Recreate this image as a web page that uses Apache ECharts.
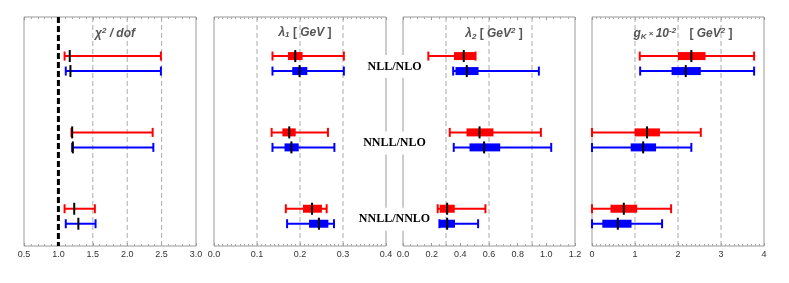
<!DOCTYPE html>
<html>
<head>
<meta charset="utf-8">
<script src="https://cdn.jsdelivr.net/npm/echarts@6/dist/echarts.min.js"></script>
<style>html,body{margin:0;padding:0;background:#fff}#c{width:789px;height:283px}</style>
</head>
<body>
<div id="c"></div>
<script>
// ---- data ----
const groups = ['NLL/NLO', 'NNLL/NLO', 'NNLL/NNLO'];
// chi2/dof: [low, central, high]
const chi2Red  = [[1.09, 1.165, 2.49], [1.19, 1.20, 2.37], [1.09, 1.23, 1.53]];
const chi2Blue = [[1.107, 1.175, 2.49], [1.20, 1.21, 2.38], [1.107, 1.29, 1.54]];
// others: [low, boxLow, central, boxHigh, high]
const lambda1Red  = [[0.136, 0.172, 0.189, 0.206, 0.302], [0.134, 0.159, 0.175, 0.190, 0.265], [0.167, 0.207, 0.228, 0.251, 0.262]];
const lambda1Blue = [[0.136, 0.182, 0.199, 0.217, 0.302], [0.136, 0.164, 0.180, 0.197, 0.280], [0.170, 0.221, 0.244, 0.266, 0.279]];
const lambda2Red  = [[0.177, 0.356, 0.424, 0.506, 0.506], [0.326, 0.443, 0.534, 0.631, 0.962], [0.242, 0.256, 0.308, 0.361, 0.575]];
const lambda2Blue = [[0.350, 0.366, 0.445, 0.527, 0.948], [0.354, 0.464, 0.566, 0.678, 1.034], [0.254, 0.254, 0.308, 0.363, 0.524]];
const gkRed  = [[1.11, 2.00, 2.31, 2.64, 3.77], [0, 0.99, 1.28, 1.58, 2.53], [0, 0.43, 0.74, 1.05, 1.84]];
const gkBlue = [[1.12, 1.85, 2.18, 2.53, 3.77], [0, 0.90, 1.19, 1.49, 2.31], [0, 0.24, 0.60, 0.92, 1.63]];
// axis ranges / ticks
const xMins = [0.5, 0, 0, 0];
const xMaxs = [3.0, 0.4, 1.2, 4];
const xIntervals = [0.5, 0.1, 0.2, 1];
const xDecimals = [1, 1, 1, 0];
const minorSplits = [5, 10, 4, 10];
// dashed grid lines
const gridChi2 = [1.5, 2.0, 2.5];
const gridL1 = [0.1, 0.2, 0.3];
const gridL2 = [0.3, 0.6, 0.9];
const gridGK = [1, 2, 3];
const chi2Ref = [1.0];

// ---- layout ----
const panelLefts = [24, 214, 403, 592];
const panelW = 172, panelTop = 17, panelH = 229;
const yMin = -0.61, yMax = 2.39;
const RED = '#ff0000', BLUE = '#0000ff';

const chart = echarts.init(document.getElementById('c'), null, {renderer: 'canvas'});

const grids = [], xAxes = [], yAxes = [], series = [];
panelLefts.forEach((l, i) => {
  grids.push({left: l, top: panelTop, width: panelW, height: panelH, show: true, borderColor: '#999', borderWidth: 1, backgroundColor: 'transparent'});
  const common = {
    type: 'value', gridIndex: i, min: xMins[i], max: xMaxs[i], interval: xIntervals[i],
    axisLine: {show: false, onZero: false}, splitLine: {show: false},
    axisTick: {show: true, inside: true, length: 3, lineStyle: {color: '#999'}},
    minorTick: {show: true, splitNumber: minorSplits[i], length: 2, lineStyle: {color: '#aaa'}},
  };
  xAxes.push(Object.assign({}, common, {position: 'bottom',
    axisLabel: {show: true, margin: 4, fontSize: 9, color: '#333', fontFamily: 'Liberation Sans',
      formatter: v => (+v).toFixed(xDecimals[i])}}));
  xAxes.push(Object.assign({}, common, {position: 'top', axisLabel: {show: false}}));
  yAxes.push({type: 'value', gridIndex: i, min: yMin, max: yMax, inverse: true, show: false});
});

function vline(color, width, dash) {
  return function (params, api) {
    const v = api.value(0);
    const p0 = api.coord([v, yMin]);
    const p1 = api.coord([v, yMax]);
    return {type: 'line', shape: {x1: p0[0], y1: p0[1], x2: p1[0], y2: p1[1]},
      style: {stroke: color, lineWidth: width, lineDash: dash}};
  };
}
function addGridLines(i, arr) {
  series.push({type: 'custom', xAxisIndex: 2 * i, yAxisIndex: i, z: 1, silent: true,
    data: arr.map(v => [v, 0]), renderItem: vline('#aaa', 1, [5, 3])});
}
addGridLines(0, gridChi2); addGridLines(1, gridL1); addGridLines(2, gridL2); addGridLines(3, gridGK);
series.push({type: 'custom', xAxisIndex: 0, yAxisIndex: 0, z: 3, silent: true,
  data: chi2Ref.map(v => [v, 0]), renderItem: vline('#000', 3, [6, 3])});

function addBars(i, arr, color, offset, hasBox) {
  const data = arr.map((r, g) => hasBox ? [g, r[0], r[1], r[2], r[3], r[4]] : [g, r[0], null, r[1], null, r[2]]);
  series.push({type: 'custom', xAxisIndex: 2 * i, yAxisIndex: i, z: 5, silent: true, data,
    renderItem: function (params, api) {
      const g = api.value(0);
      const lo = api.coord([api.value(1), g]);
      const c = api.coord([api.value(3), g]);
      const hi = api.coord([api.value(5), g]);
      const y = lo[1] + offset;
      const ch = [
        {type: 'line', shape: {x1: lo[0], y1: y, x2: hi[0], y2: y}, style: {stroke: color, lineWidth: 2}},
        {type: 'line', shape: {x1: lo[0], y1: y - 4.5, x2: lo[0], y2: y + 4.5}, style: {stroke: color, lineWidth: 2}},
        {type: 'line', shape: {x1: hi[0], y1: y - 4.5, x2: hi[0], y2: y + 4.5}, style: {stroke: color, lineWidth: 2}},
      ];
      if (hasBox) {
        const b0 = api.coord([api.value(2), g]);
        const b1 = api.coord([api.value(4), g]);
        ch.push({type: 'rect', shape: {x: b0[0], y: y - 4, width: b1[0] - b0[0], height: 8}, style: {fill: color}});
      }
      ch.push({type: 'line', shape: {x1: c[0], y1: y - 6, x2: c[0], y2: y + 6}, style: {stroke: '#000', lineWidth: 2}});
      return {type: 'group', children: ch};
    }});
}
addBars(0, chi2Red, RED, -7.5, false);
addBars(0, chi2Blue, BLUE, 7.5, false);
addBars(1, lambda1Red, RED, -7.5, true);
addBars(1, lambda1Blue, BLUE, 7.5, true);
addBars(2, lambda2Red, RED, -7.5, true);
addBars(2, lambda2Blue, BLUE, 7.5, true);
addBars(3, gkRed, RED, -7.5, true);
addBars(3, gkBlue, BLUE, 7.5, true);

// group labels between panel 2 and 3
series.push({type: 'custom', xAxisIndex: 2, yAxisIndex: 1, z: 10, silent: true,
  data: groups.map((name, g) => [g, xMaxs[1]]),
  renderItem: function (params, api) {
    const g = api.value(0);
    const p = api.coord([api.value(1), g]);
    return {type: 'text', x: p[0] + 8.5, y: p[1] + 3,
      style: {text: groups[g], fill: '#000', font: 'bold 12px "Liberation Serif"', align: 'center', verticalAlign: 'middle',
        backgroundColor: '#fff', padding: [5, 1, 6, 1]}};
  }});

const rich = {
  i: {fontStyle: 'italic', fontSize: 12, color: '#555', fontFamily: 'Liberation Sans'},
  n: {fontSize: 12, color: '#555', fontFamily: 'Liberation Sans'},
  sup: {fontStyle: 'italic', fontSize: 8, color: '#555', fontFamily: 'Liberation Sans', verticalAlign: 'top', padding: [0, 0, 6, 0]},
  sub: {fontStyle: 'italic', fontSize: 8, color: '#555', fontFamily: 'Liberation Sans', verticalAlign: 'bottom', padding: [4, 0, 0, 0]},
  x: {fontSize: 8, color: '#555', fontFamily: 'Liberation Sans'}
};
const titleTexts = [
  '{i|χ}{sup|2}{i| / dof}',
  '{i|λ}{sub|1}{n| [ }{i|GeV}{n| ]}',
  '{i|λ}{sub|2}{n| [ }{i|GeV}{sup|2}{n| ]}',
  '{i|g}{sub|K}{x| × }{i|10}{sup|-2}{n|    [ }{i|GeV}{sup|2}{n| ]}'
];
const titles = titleTexts.map((t, i) => ({
  text: t, left: panelLefts[i] + panelW / 2, top: 22, textAlign: 'center',
  textStyle: {rich}
}));

chart.setOption({
  animation: false,
  backgroundColor: '#fff',
  title: titles,
  grid: grids,
  xAxis: xAxes,
  yAxis: yAxes,
  series
});
</script>
</body>
</html>
